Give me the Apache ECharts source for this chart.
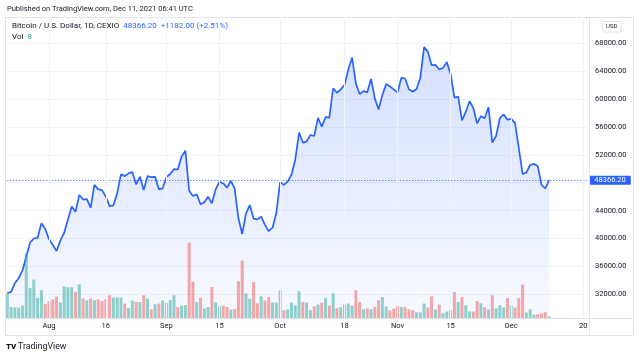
<!DOCTYPE html>
<html><head><meta charset="utf-8">
<script src="https://cdn.jsdelivr.net/npm/echarts@6/dist/echarts.min.js"></script>
<style>html,body{margin:0;padding:0;background:#fff}#c{width:640px;height:358px}</style>
</head><body><div id="c"></div>
<script>
// ---- data ----
const firstDate = '2021-07-21';
const dayCount = 154; // visible axis span: Jul 21 .. Dec 21
const closePrices = [
  // Jul 21-31
  32150, 32350, 33600, 34300, 35400, 37400, 39400, 40000, 40100, 42200, 41400,
  // Aug
  39900, 39100, 38200, 39700, 40800, 42700, 44600, 43850, 46250, 45600,
  45650, 44400, 47700, 47050, 46950, 46000, 44650, 44750, 46500, 49200,
  48950, 49350, 49550, 47750, 48850, 46950, 48950, 48800, 48850, 47050, 47200,
  // Sep
  48800, 49250, 49950, 49900, 51750, 52600, 46850, 46100, 46350, 44900,
  45200, 46000, 45050, 47050, 48150, 47900, 47300, 48250, 47200, 42900,
  40650, 43600, 44800, 42850, 42750, 43150, 41950, 41050, 41550, 43650,
  // Oct
  48100, 47700, 48150, 49150, 51300, 55200, 53750, 53900, 54850, 54700,
  57300, 56050, 57400, 57350, 61550, 60900, 61400, 62000, 64250, 65950,
  62250, 60700, 61150, 60950, 62900, 60100, 58500, 60600, 62150, 61800, 61400,
  // Nov
  60950, 63050, 62950, 61400, 61050, 61450, 63000, 67450, 66800, 64850,
  64900, 64250, 64450, 65300, 63600, 60200, 60350, 56950, 58150, 59700,
  58700, 56500, 57550, 57250, 58850, 53750, 54700, 57250, 57800, 57050,
  // Dec 1-11
  57150, 56550, 53000, 49250, 49450, 50550, 50700, 50400, 47650, 47184.2, 48366.2
];
const volumes = [
  // Jul 21-31
  99, 45, 43, 43, 51, 259, 121, 155, 81, 112, 57,
  // Aug
  69, 75, 87, 63, 127, 124, 124, 105, 136, 79,
  72, 79, 72, 76, 69, 76, 92, 83, 83, 83,
  59, 41, 71, 65, 65, 92, 79, 36, 56, 59, 71,
  // Sep
  61, 73, 92, 45, 51, 53, 303, 147, 65, 81,
  39, 45, 125, 63, 49, 51, 45, 35, 37, 148,
  231, 99, 79, 145, 60, 88, 71, 85, 63, 63,
  // Oct
  112, 32, 36, 63, 52, 108, 65, 63, 32, 48,
  55, 63, 81, 51, 100, 41, 45, 55, 59, 51,
  112, 65, 36, 39, 36, 45, 72, 85, 48, 32, 39,
  // Nov
  49, 45, 45, 36, 32, 24, 24, 59, 43, 88,
  35, 55, 21, 27, 32, 105, 65, 84, 52, 27,
  27, 69, 60, 44, 35, 92, 40, 52, 43, 81,
  // Dec 1-11
  52, 43, 81, 135, 23, 35, 15, 17, 20, 24, 8
];
const dateTickLabels = {
  '2021-08-01': 'Aug', '2021-08-16': '16', '2021-09-01': 'Sep', '2021-09-15': '15',
  '2021-10-01': 'Oct', '2021-10-18': '18', '2021-11-01': 'Nov', '2021-11-15': '15',
  '2021-12-01': 'Dec', '2021-12-20': '20'
};
const priceAxisMin = 28000, priceAxisMax = 72000, priceStep = 4000;
const volumeAxisMax = 1205;
const symbolTitle = 'Bitcoin / U.S. Dollar, 1D, CEXIO';
const publishedText = 'Published on TradingView.com, Dec 11, 2021 06:41 UTC';

// ---- derived ----
const categories = [];
const t0 = Date.parse(firstDate + 'T00:00:00Z');
for (let i = 0; i < dayCount; i++) categories.push(new Date(t0 + i * 86400000).toISOString().slice(0, 10));
const lastClose = closePrices[closePrices.length - 1];
const prevClose = closePrices[closePrices.length - 2];
const change = lastClose - prevClose;
const changePct = change / prevClose * 100;
const lastVol = volumes[volumes.length - 1];

const FONT = 'Roboto, "Liberation Sans", sans-serif';
const TXT = '#131722';
const BLUE = '#2962ff';
const BORDER = '#e0e3eb';
const GRIDC = '#f0f3fa';
const volUp = 'rgba(38,166,154,0.5)';
const volDown = 'rgba(239,83,80,0.5)';

const volData = volumes.map((v, i) => ({
  value: v,
  itemStyle: { color: (i === 0 || closePrices[i] >= closePrices[i - 1]) ? volUp : volDown }
}));

const nTicks = Math.round((priceAxisMax - priceAxisMin) / priceStep) + 1;
const splitColors = [];
for (let i = 0; i < nTicks; i++) splitColors.push(i === 0 || i === nTicks - 1 ? 'rgba(0,0,0,0)' : GRIDC);

const gridLeft = 7.3, gridWidth = 579.7;

const chart = echarts.init(document.getElementById('c'), null, { renderer: 'canvas' });
chart.setOption({
  animation: false,
  backgroundColor: '#fff',
  title: [
    { text: publishedText, left: 7, top: 4.2, padding: 0,
      textStyle: { fontFamily: FONT, fontSize: 7.5, lineHeight: 9, fontWeight: 'normal', color: TXT } },
    { text: '{a|' + symbolTitle + '}  {b|' + lastClose.toFixed(2) + '}  {b|' + (change >= 0 ? '+' : '') + change.toFixed(2) + ' (' + (change >= 0 ? '+' : '') + changePct.toFixed(2) + '%)}',
      left: 12, top: 21, padding: 0,
      textStyle: { fontFamily: FONT, fontSize: 8, lineHeight: 9.5, fontWeight: 'normal', color: TXT,
        rich: { a: { fontFamily: FONT, fontSize: 8, color: TXT }, b: { fontFamily: FONT, fontSize: 8, color: BLUE } } } },
    { text: '{a|Vol}  {c|' + lastVol + '}', left: 12, top: 32.6, padding: 0,
      textStyle: { fontFamily: FONT, fontSize: 8, lineHeight: 9.5, fontWeight: 'normal', color: TXT,
        rich: { a: { fontFamily: FONT, fontSize: 8, color: TXT }, c: { fontFamily: FONT, fontSize: 8, color: '#26a69a' } } } }
  ],
  grid: [
    { left: gridLeft, width: gridWidth, top: 15.4, height: 306.8 },
    { left: gridLeft, width: gridWidth, top: 17, height: 301.3 }
  ],
  xAxis: [
    { type: 'category', gridIndex: 0, data: categories, boundaryGap: false, show: false },
    { type: 'category', gridIndex: 1, data: categories, boundaryGap: false, z: 120,
      axisLine: { show: false }, axisTick: { show: false },
      axisLabel: { interval: (idx, val) => dateTickLabels[val] !== undefined, formatter: v => dateTickLabels[v] || '',
        margin: 4, fontFamily: FONT, fontSize: 7.5, color: TXT },
      splitLine: { show: true, interval: (idx, val) => dateTickLabels[val] !== undefined, lineStyle: { color: GRIDC, width: 1 } } }
  ],
  yAxis: [
    { type: 'value', gridIndex: 0, position: 'right', min: priceAxisMin, max: priceAxisMax, interval: priceStep,
      axisLine: { show: false }, axisTick: { show: false },
      axisLabel: { showMinLabel: false, showMaxLabel: false, margin: 8, fontFamily: FONT, fontSize: 7.5, color: TXT,
        formatter: v => (Math.abs(v - lastClose) < 1500 ? '' : v.toFixed(2)) },
      splitLine: { show: true, lineStyle: { color: splitColors, width: 1 } } },
    { type: 'value', gridIndex: 1, min: 0, max: volumeAxisMax, show: false, splitLine: { show: false } }
  ],
  series: [
    { type: 'line', xAxisIndex: 0, yAxisIndex: 0, data: closePrices, showSymbol: false, z: 3,
      lineStyle: { color: BLUE, width: 1.7 },
      itemStyle: { color: BLUE },
      areaStyle: { origin: 'start', color: new echarts.graphic.LinearGradient(0, 47, 0, 318, [
        { offset: 0, color: 'rgba(41,98,255,0.28)' }, { offset: 1, color: 'rgba(41,98,255,0.05)' }], true) },
      markLine: { silent: true, symbol: ['none', 'none'], animation: false,
        lineStyle: { color: BLUE, width: 1, type: [1, 2] },
        label: { show: true, position: 'end', distance: 2.3, formatter: () => lastClose.toFixed(2),
          backgroundColor: BLUE, color: '#fff', fontFamily: FONT, fontSize: 7.5, lineHeight: 9, padding: [0, 5, 0, 5] },
        data: [{ yAxis: lastClose }] } },
    { type: 'bar', xAxisIndex: 1, yAxisIndex: 1, data: volData, barWidth: 3, z: 4 }
  ],
  graphic: { elements: [
    { type: 'rect', silent: true, z: 100, shape: { x: 5.5, y: 319, width: 583.5, height: 3.6 }, style: { fill: '#fff' } },
    { type: 'line', silent: true, z: 110, shape: { x1: 5, y1: 17.5, x2: 634, y2: 17.5 }, style: { stroke: BORDER, lineWidth: 1 } },
    { type: 'line', silent: true, z: 110, shape: { x1: 5.5, y1: 17, x2: 5.5, y2: 336 }, style: { stroke: BORDER, lineWidth: 1 } },
    { type: 'line', silent: true, z: 110, shape: { x1: 589.5, y1: 17, x2: 589.5, y2: 336 }, style: { stroke: BORDER, lineWidth: 1 } },
    { type: 'line', silent: true, z: 110, shape: { x1: 633.5, y1: 17, x2: 633.5, y2: 336 }, style: { stroke: BORDER, lineWidth: 1 } },
    { type: 'line', silent: true, z: 110, shape: { x1: 5, y1: 318.5, x2: 634, y2: 318.5 }, style: { stroke: BORDER, lineWidth: 1 } },
    { type: 'line', silent: true, z: 110, shape: { x1: 5, y1: 335.5, x2: 634, y2: 335.5 }, style: { stroke: BORDER, lineWidth: 1 } },
    { type: 'rect', silent: true, z: 110, shape: { x: 602.5, y: 21.5, width: 18.5, height: 10.5, r: 2 }, style: { fill: '#fff', stroke: BORDER, lineWidth: 1 } },
    { type: 'text', silent: true, z: 111, x: 611.8, y: 26.8, style: { text: 'USD', fontFamily: FONT, fontSize: 6, fill: TXT, align: 'center', verticalAlign: 'middle' } },
    { type: 'text', silent: true, z: 111, x: 6, y: 347, style: { text: 'TV', fontFamily: FONT, fontWeight: 900, fontSize: 8, fill: TXT, align: 'left', verticalAlign: 'middle' } },
    { type: 'text', silent: true, z: 111, x: 18, y: 347, style: { text: 'TradingView', fontFamily: FONT, fontSize: 8.8, fill: TXT, align: 'left', verticalAlign: 'middle' } }
  ] }
});
</script></body></html>
